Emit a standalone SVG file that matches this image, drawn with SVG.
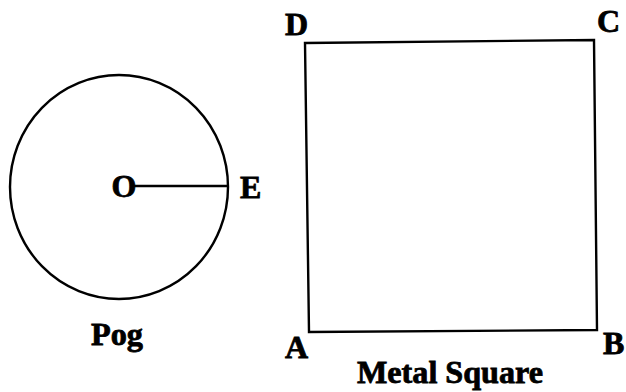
<svg xmlns="http://www.w3.org/2000/svg" width="626" height="392" viewBox="0 0 626 392">
<style>
.ln{fill:none;stroke:#000;stroke-width:2.4}
.lb{font-family:"Liberation Serif","Times New Roman",serif;font-weight:bold;font-size:32px;fill:#000;stroke:#000;stroke-width:0.8}
</style>
<rect width="626" height="392" fill="#fff"/>
<g id="pog">
<ellipse class="ln" cx="119" cy="187" rx="109" ry="112"/>
<text class="lb" x="91" y="345" textLength="52" lengthAdjust="spacingAndGlyphs">Pog</text>
</g>
<g id="O"><text class="lb" x="124" y="197" text-anchor="middle">O</text></g>
<g id="E"><text class="lb" x="240" y="198">E</text></g>
<g id="square">
<polygon class="ln" points="305,43 594,40 597,330 309,332"/>
<text class="lb" x="357" y="383" font-size="30" textLength="186" lengthAdjust="spacingAndGlyphs">Metal Square</text>
</g>
<g id="A"><text class="lb" x="285" y="358">A</text></g>
<g id="B"><text class="lb" x="603" y="354" font-size="30">B</text></g>
<g id="C"><text class="lb" x="597" y="32">C</text></g>
<g id="D"><text class="lb" x="285" y="35">D</text></g>
<g id="connectors">
<line class="ln" x1="134" y1="186" x2="228" y2="186"/>
</g>
</svg>
